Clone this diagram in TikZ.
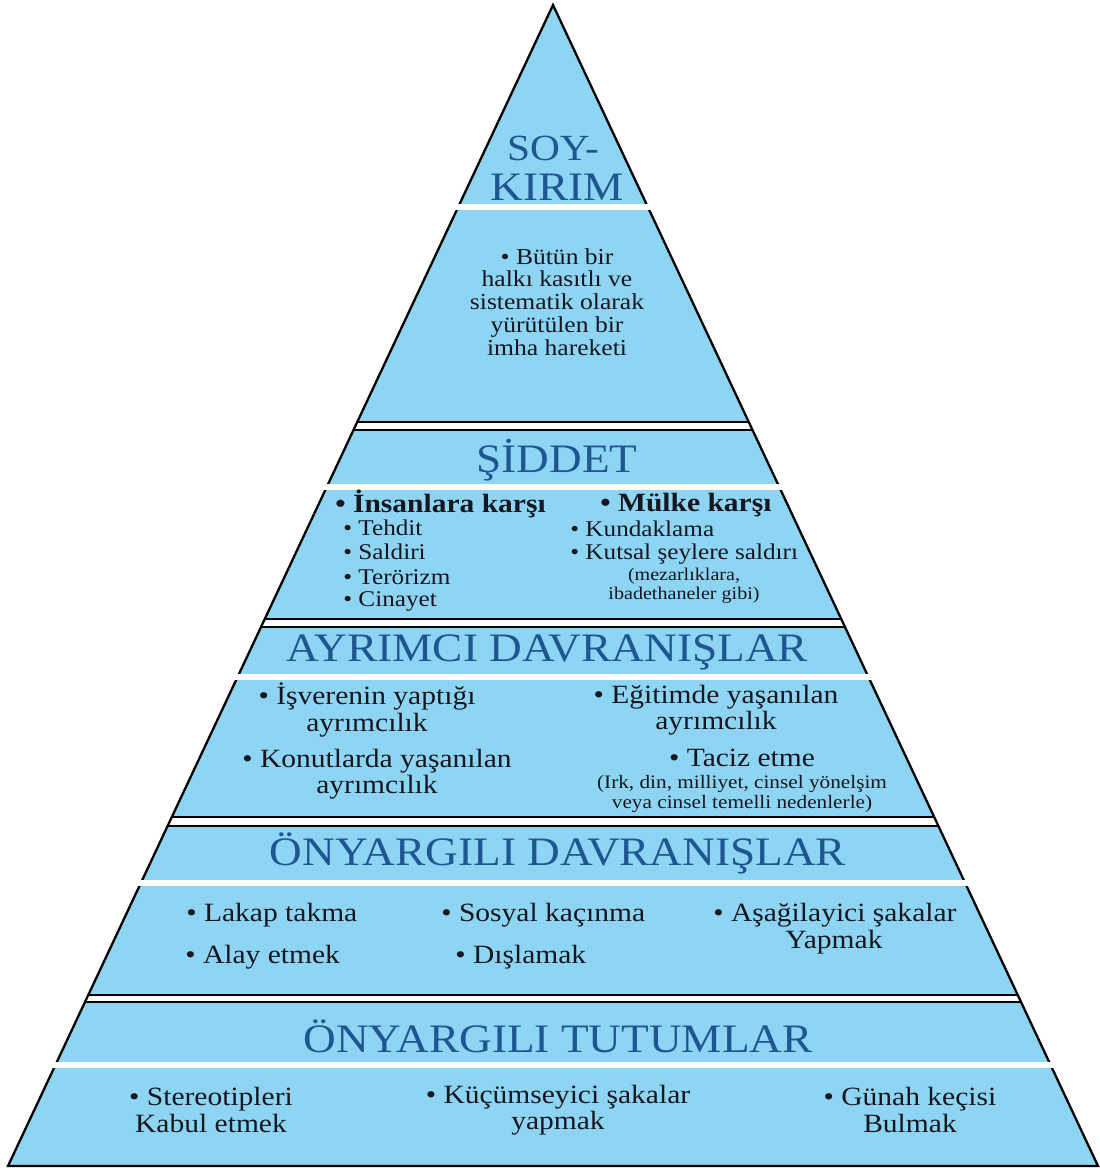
\documentclass[tikz,border=0pt]{standalone}
\usepackage{fontspec}
\setmainfont[FakeStretch=1.12]{Liberation Serif}
\definecolor{pyrblue}{RGB}{142,212,243}
\definecolor{headblue}{RGB}{30,86,146}
\definecolor{bodyink}{RGB}{22,22,32}
\begin{document}
\begin{tikzpicture}[x=0.02cm,y=-0.02cm]
	\tikzstyle{edge}=[draw=black,line width=1.3pt]
	\tikzstyle{head}=[headblue,font=\fontsize{23}{24}\selectfont,inner sep=0pt]
	\tikzstyle{item}=[bodyink,font=\fontsize{15}{15}\selectfont,inner sep=0pt,align=center]
	\tikzstyle{subitem}=[bodyink,font=\fontsize{12.8}{14}\selectfont,inner sep=0pt,anchor=west]
	\tikzstyle{note}=[bodyink,font=\fontsize{10.5}{11}\selectfont,inner sep=0pt,align=center]
	\useasboundingbox (0,0) rectangle (1099,1168);
	\coordinate (apex) at (553,5);
	\coordinate (base_l) at (8,1166);
	\coordinate (base_r) at (1098,1166);
	\fill[pyrblue] (apex) -- (base_r) -- (base_l) -- cycle;
	\begin{scope}
		\clip (apex) -- (base_r) -- (base_l) -- cycle;
		\foreach \ya/\yb in {422/430,619/627,817/826,995/1002}{
			\fill[white] (0,\ya) rectangle (1099,\yb);
			\draw[edge] (0,\ya) -- (1099,\ya);
			\draw[edge] (0,\yb) -- (1099,\yb);
		}
	\end{scope}
	\draw[edge,line join=miter] (apex) -- (base_r) -- (base_l) -- cycle;
	\foreach \y in {207,487,677,883,1065}
		\fill[white] (0,\y-3) rectangle (1099,\y+3);

	\node[head,font=\fontsize{21}{24}\selectfont] (soy) at (553,148) {SOY-};
	\node[head] (kirim) at (557,187) {KIRIM};
	\node[item,font=\fontsize{13}{13}\selectfont] (soy_txt) at (557,302) {• Bütün bir\\halkı kasıtlı ve\\sistematik olarak\\yürütülen bir\\imha hareketi};

	\node[head] (siddet) at (557,460) {ŞİDDET};
	\node[item,anchor=west,font=\bfseries\fontsize{15}{15}\selectfont] (insan) at (335,504) {• İnsanlara karşı};
	\node[subitem] (tehdit) at (343,528) {• Tehdit};
	\node[subitem] (saldiri) at (343,552) {• Saldiri};
	\node[subitem] (teror) at (343,577) {• Terörizm};
	\node[subitem] (cinayet) at (343,601) {• Cinayet};
	\node[item,font=\bfseries\fontsize{15}{15}\selectfont] (mulk) at (686,505) {• Mülke karşı};
	\node[subitem] (kundak) at (570,529) {• Kundaklama};
	\node[subitem] (kutsal) at (570,554) {• Kutsal şeylere saldırı};
	\node[note,font=\fontsize{10.2}{11}\selectfont] (mezar) at (684,586) {(mezarlıklara,\\ibadethaneler gibi)};

	\node[head] (ayrim) at (547,652) {AYRIMCI DAVRANIŞLAR};
	\node[item] (isveren) at (367,710) {• İşverenin yaptığı\\ayrımcılık};
	\node[item] (egitim) at (716,710) {• Eğitimde yaşanılan\\ayrımcılık};
	\node[item] (konut) at (377,774) {• Konutlarda yaşanılan\\ayrımcılık};
	\node[item] (taciz) at (742,758) {• Taciz etme};
	\node[note,font=\fontsize{10.8}{11}\selectfont] (irk) at (742,794) {(Irk, din, milliyet, cinsel yönelşim\\veya cinsel temelli nedenlerle)};

	\node[head] (ony_dav) at (558,853) {ÖNYARGILI DAVRANIŞLAR};
	\node[item,anchor=west] (lakap) at (186,915) {• Lakap takma};
	\node[item,anchor=west] (alay) at (185,957) {• Alay etmek};
	\node[item,anchor=west] (sosyal) at (441,915) {• Sosyal kaçınma};
	\node[item,anchor=west] (dislamak) at (455,957) {• Dışlamak};
	\node[item,anchor=west] (asagi) at (713,915) {• Aşağilayici şakalar};
	\node[item] (yapmak_a) at (834,942) {Yapmak};

	\node[head] (ony_tut) at (558,1036) {ÖNYARGILI TUTUMLAR};
	\node[item] (stereo) at (211,1110) {• Stereotipleri\\Kabul etmek};
	\node[item] (kucum) at (558,1110) {• Küçümseyici şakalar\\yapmak};
	\node[item] (gunah) at (910,1110) {• Günah keçisi\\Bulmak};
\end{tikzpicture}
\end{document}
